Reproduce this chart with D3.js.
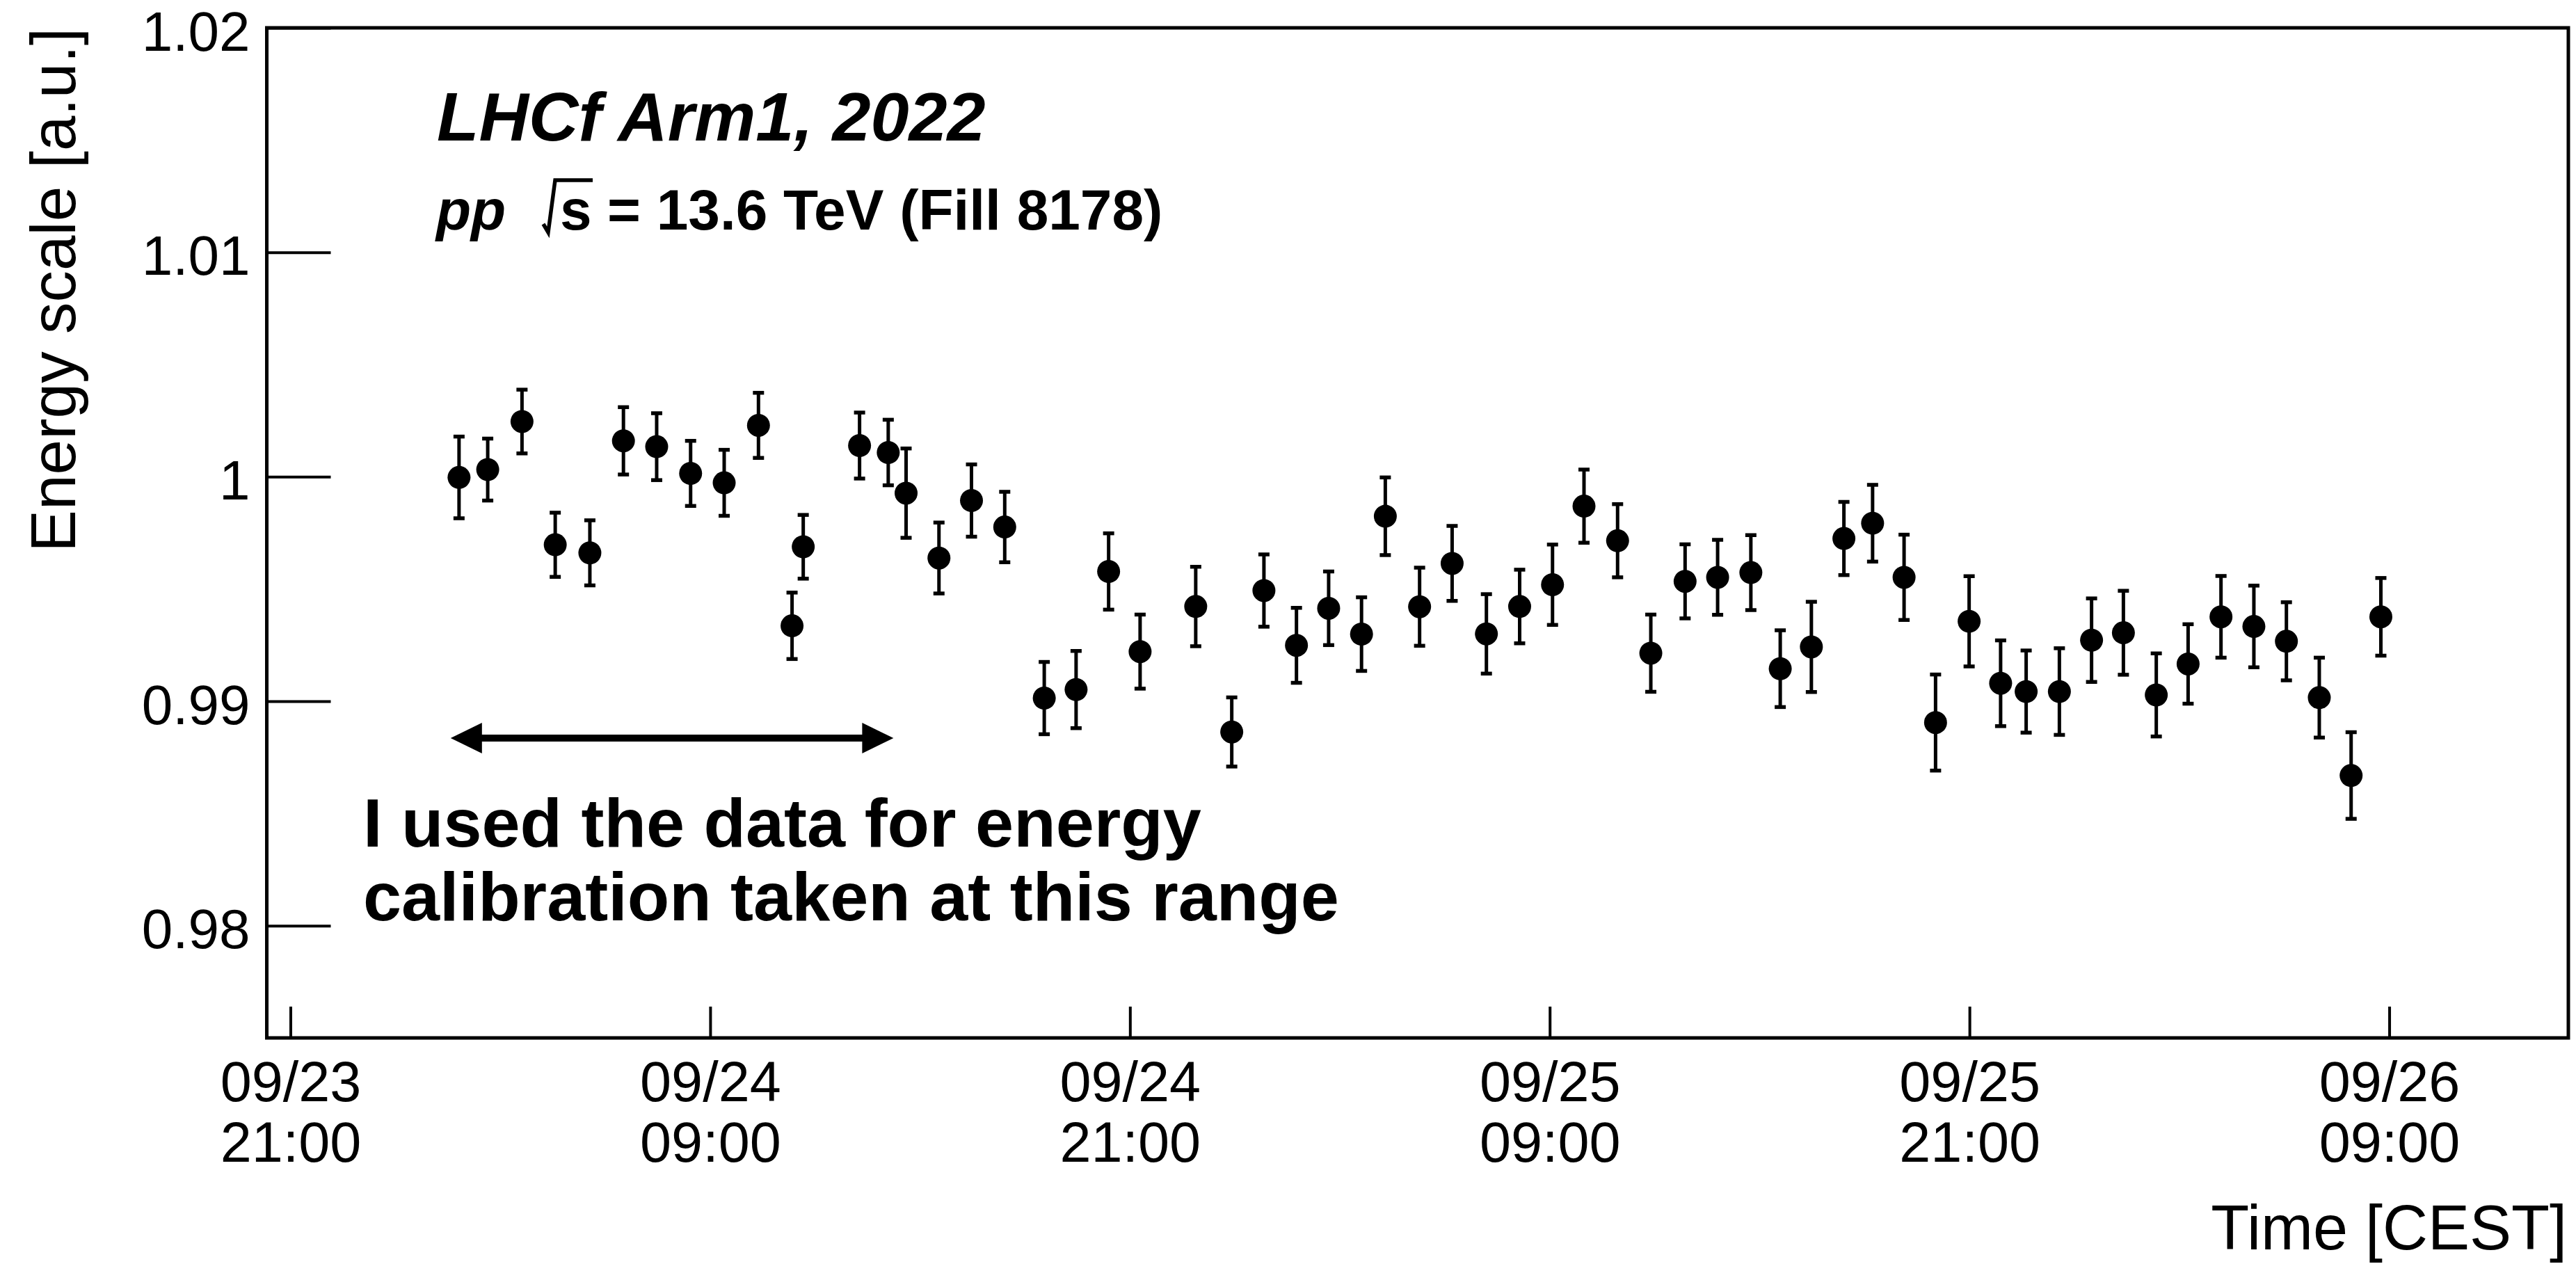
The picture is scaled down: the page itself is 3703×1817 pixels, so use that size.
<!DOCTYPE html>
<html>
<head>
<meta charset="utf-8">
<script src="https://cdn.jsdelivr.net/npm/d3@7"></script>
<style>
  html, body { margin: 0; padding: 0; background: #ffffff; }
  svg { display: block; }
  text { font-family: "Liberation Sans", Arial, Helvetica, sans-serif; fill: #000; }
</style>
</head>
<body>
<svg id="chart" width="3703" height="1817"></svg>
<script>
// Hours elapsed since 2022-09-23 21:00 CEST for each energy-scale measurement
const hoursSinceStart = [
  4.82, 5.64, 6.62, 7.57, 8.56, 9.52, 10.47, 11.44, 12.40, 13.38,
  14.34, 14.66, 16.27, 17.09, 17.60, 18.54, 19.47, 20.42, 21.55, 22.46,
  23.39, 24.29, 25.88, 26.91, 27.83, 28.76, 29.68, 30.62, 31.30, 32.28,
  33.21, 34.19, 35.14, 36.08, 36.98, 37.94, 38.89, 39.87, 40.80, 41.75,
  42.59, 43.48, 44.41, 45.23, 46.13, 47.03, 47.99, 48.89, 49.62, 50.57,
  51.49, 52.40, 53.34, 54.25, 55.19, 56.13, 57.06, 58.00, 58.91, 59.76
];

// Relative energy scale
const energyScale = [
  0.99997, 1.00032, 1.00246, 0.99697, 0.99661, 1.00160, 1.00134, 1.00015, 0.99973, 1.00229,
  0.99336, 0.99688, 1.00139, 1.00108, 0.99927, 0.99638, 0.99894, 0.99776, 0.99014, 0.99052,
  0.99578, 0.99221, 0.99422, 0.98863, 0.99493, 0.99249, 0.99414, 0.99299, 0.99824, 0.99421,
  0.99614, 0.99300, 0.99422, 0.99519, 0.99869, 0.99715, 0.99214, 0.99534, 0.99552, 0.99573,
  0.99145, 0.99242, 0.99725, 0.99793, 0.99552, 0.98905, 0.99356, 0.99080, 0.99043, 0.99043,
  0.99272, 0.99305, 0.99028, 0.99166, 0.99376, 0.99333, 0.99267, 0.99016, 0.98669, 0.99376
];

// Statistical uncertainty of each measurement
const energyError = [
  0.00182, 0.00138, 0.00142, 0.00143, 0.00145, 0.00150, 0.00149, 0.00145, 0.00147, 0.00145,
  0.00148, 0.00142, 0.00147, 0.00146, 0.00199, 0.00158, 0.00161, 0.00157, 0.00161, 0.00172,
  0.00170, 0.00165, 0.00177, 0.00154, 0.00161, 0.00167, 0.00164, 0.00164, 0.00173, 0.00174,
  0.00167, 0.00177, 0.00164, 0.00179, 0.00163, 0.00163, 0.00172, 0.00165, 0.00167, 0.00167,
  0.00171, 0.00201, 0.00163, 0.00171, 0.00190, 0.00214, 0.00201, 0.00191, 0.00183, 0.00193,
  0.00186, 0.00187, 0.00185, 0.00177, 0.00182, 0.00182, 0.00174, 0.00178, 0.00193, 0.00173
];

// Axis ticks
const yTickValues = [0.98, 0.99, 1.00, 1.01, 1.02];
const yTickLabels = ["0.98", "0.99", "1", "1.01", "1.02"];
const xTickHours = [0, 12, 24, 36, 48, 60];
const xTickLabels = [
  ["09/23", "21:00"], ["09/24", "09:00"], ["09/24", "21:00"],
  ["09/25", "09:00"], ["09/25", "21:00"], ["09/26", "09:00"]
];

// Time window (hours) whose data were used for the energy calibration
const calibrationRange = [4.58, 17.24];

const startTime = Date.UTC(2022, 8, 23, 21, 0, 0);
const toDate = h => new Date(startTime + h * 3600e3);

const frame = { left: 383.5, right: 3692, top: 40, bottom: 1492 };
const FONT = '"Liberation Sans", Arial, Helvetica, sans-serif';

const svg = d3.select("#chart");
svg.append("rect").attr("width", 3703).attr("height", 1817).attr("fill", "#fff");

const x = d3.scaleUtc()
  .domain([toDate(-0.676), toDate(65.12)])
  .range([frame.left, frame.right]);

const y = d3.scaleLinear()
  .domain([0.975, 1.02])
  .range([frame.bottom, frame.top]);

// Y axis (ticks pointing inward)
const yAxis = d3.axisLeft(y)
  .tickValues(yTickValues)
  .tickFormat((d, i) => yTickLabels[i])
  .tickSizeInner(-92)
  .tickSizeOuter(0)
  .tickPadding(24);

const gy = svg.append("g")
  .attr("transform", `translate(${frame.left},0)`)
  .call(yAxis);
gy.select(".domain").remove();
gy.selectAll(".tick line").attr("stroke", "#000").attr("stroke-width", 4);
gy.selectAll(".tick text")
  .attr("font-family", FONT)
  .attr("font-size", 80)
  .attr("dy", "0.4em")
  .attr("fill", "#000");

// X axis (ticks pointing inward, two-line date labels)
const xAxis = d3.axisBottom(x)
  .tickValues(xTickHours.map(toDate))
  .tickFormat(() => "")
  .tickSizeInner(-45)
  .tickSizeOuter(0);

const gx = svg.append("g")
  .attr("transform", `translate(0,${frame.bottom})`)
  .call(xAxis);
gx.select(".domain").remove();
gx.selectAll(".tick line").attr("stroke", "#000").attr("stroke-width", 4);
gx.selectAll(".tick text").remove();
gx.selectAll(".tick").each(function (d, i) {
  const t = d3.select(this).append("text")
    .attr("text-anchor", "middle")
    .attr("font-family", FONT)
    .attr("font-size", 81)
    .attr("fill", "#000");
  t.append("tspan").attr("x", 0).attr("y", 91).text(xTickLabels[i][0]);
  t.append("tspan").attr("x", 0).attr("y", 178).text(xTickLabels[i][1]);
});

// Frame
svg.append("rect")
  .attr("x", frame.left)
  .attr("y", frame.top)
  .attr("width", frame.right - frame.left)
  .attr("height", frame.bottom - frame.top)
  .attr("fill", "none")
  .attr("stroke", "#000")
  .attr("stroke-width", 5);

// Axis titles
svg.append("text")
  .attr("transform", `translate(108,40) rotate(-90)`)
  .attr("text-anchor", "end")
  .attr("font-family", FONT)
  .attr("font-size", 91)
  .text("Energy scale [a.u.]");

svg.append("text")
  .attr("x", 3690)
  .attr("y", 1796)
  .attr("text-anchor", "end")
  .attr("font-family", FONT)
  .attr("font-size", 90)
  .text("Time [CEST]");

// Data points with error bars
const points = hoursSinceStart.map((h, i) => ({
  t: toDate(h), v: energyScale[i], e: energyError[i]
}));

const pts = svg.append("g").selectAll("g").data(points).join("g");
pts.append("line")
  .attr("x1", d => x(d.t)).attr("x2", d => x(d.t))
  .attr("y1", d => y(d.v + d.e)).attr("y2", d => y(d.v - d.e))
  .attr("stroke", "#000").attr("stroke-width", 5);
[1, -1].forEach(s => {
  pts.append("line")
    .attr("x1", d => x(d.t) - 8).attr("x2", d => x(d.t) + 8)
    .attr("y1", d => y(d.v + s * d.e)).attr("y2", d => y(d.v + s * d.e))
    .attr("stroke", "#000").attr("stroke-width", 5.5);
});
pts.append("circle")
  .attr("cx", d => x(d.t)).attr("cy", d => y(d.v))
  .attr("r", 16.5)
  .attr("fill", "#000");

// Experiment label
svg.append("text")
  .attr("x", 628).attr("y", 202)
  .attr("font-family", FONT)
  .attr("font-size", 99)
  .attr("font-weight", "bold")
  .attr("font-style", "italic")
  .text("LHCf Arm1, 2022");

svg.append("text")
  .attr("x", 627).attr("y", 330)
  .attr("font-family", FONT)
  .attr("font-size", 82)
  .attr("font-weight", "bold")
  .attr("font-style", "italic")
  .text("pp");

// Square-root radical over "s"
svg.append("path")
  .attr("d", "M781,322 L788,334 L798,259 L852,259")
  .attr("fill", "none")
  .attr("stroke", "#000")
  .attr("stroke-width", 5.5)
  .attr("stroke-linejoin", "miter");

svg.append("text")
  .attr("x", 805).attr("y", 330)
  .attr("font-family", FONT)
  .attr("font-size", 82)
  .attr("font-weight", "bold")
  .text("s");

svg.append("text")
  .attr("x", 873).attr("y", 330)
  .attr("font-family", FONT)
  .attr("font-size", 82)
  .attr("font-weight", "bold")
  .text("= 13.6 TeV (Fill 8178)");

// Calibration-range arrow
const arrowY = 1061;
const ax0 = x(toDate(calibrationRange[0]));
const ax1 = x(toDate(calibrationRange[1]));
const headLen = 45, headHalf = 22;
svg.append("line")
  .attr("x1", ax0 + headLen - 2).attr("x2", ax1 - headLen + 2)
  .attr("y1", arrowY).attr("y2", arrowY)
  .attr("stroke", "#000").attr("stroke-width", 10);
svg.append("path")
  .attr("d", `M${ax0},${arrowY} L${ax0 + headLen},${arrowY - headHalf} L${ax0 + headLen},${arrowY + headHalf} Z`)
  .attr("fill", "#000");
svg.append("path")
  .attr("d", `M${ax1},${arrowY} L${ax1 - headLen},${arrowY - headHalf} L${ax1 - headLen},${arrowY + headHalf} Z`)
  .attr("fill", "#000");

// Annotation
const note = svg.append("text")
  .attr("font-family", FONT)
  .attr("font-size", 99)
  .attr("font-weight", "bold");
note.append("tspan").attr("x", 522).attr("y", 1217).text("I used the data for energy");
note.append("tspan").attr("x", 522).attr("y", 1323).text("calibration taken at this range");
</script>
</body>
</html>
